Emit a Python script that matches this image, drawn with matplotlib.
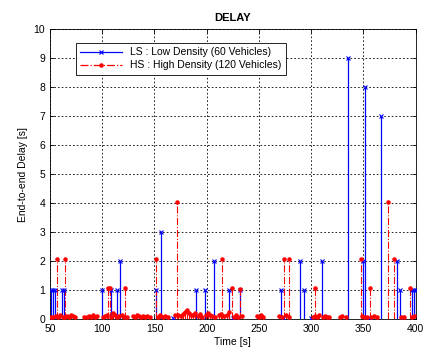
import matplotlib
matplotlib.use('Agg')
import matplotlib.pyplot as plt
from matplotlib.lines import Line2D

plt.rcParams['font.family'] = ['Liberation Sans', 'DejaVu Sans']

# LS : low density (60 vehicles) - delay peaks
ls_time = [51, 53, 55, 61, 63, 100, 108.5, 114, 117, 151.5, 156, 167.5, 190, 198, 207,
           221, 225, 232, 271, 273, 289, 293, 300, 310, 335, 350, 352, 356, 367, 382,
           385, 387, 397, 398.5, 400]
ls_delay = [1, 1, 1, 1, 1, 1, 1, 1, 2, 1, 3, 0.02, 1, 1, 2,
            1, 0.03, 1, 1, 0.03, 2, 1, 0.03, 2, 9, 2, 8, 0.04, 7, 2,
            1, 0.05, 1, 1, 1]

# HS : high density (120 vehicles) - delay peaks
hs_time = [56.5, 64.5, 105.5, 107, 122, 151, 171.5, 214.5, 224.5, 232, 274.5, 278.5,
           304, 348, 356, 373.5, 379.5, 394.5]
hs_delay = [2.05, 2.05, 1.05, 1.05, 1.05, 2.05, 4.05, 2.08, 1.05, 1.02, 2.05, 2.05,
            1.05, 2.05, 1.05, 4.05, 2.05, 1.05]

# HS : small delays close to zero
hs_low_time = [51, 53, 56, 58, 60, 62, 64, 66, 68, 70, 72, 74, 83, 85, 87, 89, 91, 93,
               95, 101, 103, 105, 108, 110, 112, 114, 116, 119, 121, 124, 129, 131, 133,
               135, 137, 139, 141, 143, 146, 153, 155, 158, 160, 163, 170, 173, 175, 177,
               179, 181, 183, 185, 187, 189, 192, 194, 196, 199, 201, 203, 205, 208, 212,
               214, 217, 219, 221, 226, 228, 230, 234, 248, 250, 252, 254, 269, 272, 276,
               279, 302, 304, 306, 308, 311, 313, 315, 317, 328, 330, 333, 349, 351, 354,
               357, 360, 363, 386, 389, 397, 399]
hs_low_delay = [0.08, 0.05, 0.1, 0.06, 0.12, 0.08, 0.05, 0.1, 0.07, 0.12, 0.09, 0.06,
                0.08, 0.05, 0.1, 0.07, 0.12, 0.06, 0.09, 0.05, 0.1, 0.14, 0.08, 0.2,
                0.12, 0.06, 0.1, 0.15, 0.08, 0.05, 0.1, 0.06, 0.12, 0.09, 0.07, 0.11,
                0.06, 0.1, 0.05, 0.08, 0.12, 0.06, 0.1, 0.07, 0.12, 0.15, 0.1, 0.18,
                0.25, 0.3, 0.22, 0.15, 0.12, 0.2, 0.1, 0.16, 0.08, 0.12, 0.2, 0.15,
                0.1, 0.07, 0.12, 0.18, 0.1, 0.14, 0.25, 0.08, 0.12, 0.06, 0.1, 0.1,
                0.06, 0.12, 0.08, 0.1, 0.06, 0.12, 0.08, 0.05, 0.1, 0.07, 0.12, 0.06,
                0.1, 0.08, 0.05, 0.08, 0.1, 0.06, 0.1, 0.06, 0.08, 0.05, 0.1, 0.06,
                0.05, 0.08, 0.06, 0.1]

fig = plt.figure(figsize=(4.24, 3.47), dpi=100)
ax = fig.add_axes([0.118, 0.081, 0.862, 0.835])

blue = (0, 0, 1)
red = (1, 0, 0)

ax.vlines(ls_time, 0, ls_delay, colors=blue, linewidth=0.9, zorder=3)
ax.plot(ls_time, ls_delay, 'x', color=blue, markersize=3.5, markeredgewidth=0.8, zorder=4)

ax.vlines(hs_time, 0, hs_delay, colors=red, linewidth=0.8, linestyles='dashdot', zorder=3)
ax.vlines(hs_low_time, 0, hs_low_delay, colors=red, linewidth=0.8, zorder=3)
ax.plot(hs_time + hs_low_time, hs_delay + hs_low_delay, '.', color=red, markersize=4.5, zorder=4)

ax.set_xlim(50, 400)
ax.set_ylim(0, 10)
ax.set_xticks(range(50, 401, 50))
ax.set_yticks(range(0, 11))
ax.tick_params(direction='in', top=True, right=True, labelsize=7.5, length=3, width=0.6)
ax.grid(True, color='black', linestyle=(0, (2, 2.5)), linewidth=0.6)
ax.set_axisbelow(True)
for s in ax.spines.values():
    s.set_linewidth(0.6)

ax.set_title('DELAY', fontsize=8, fontweight='bold', pad=6)
ax.set_xlabel('Time [s]', fontsize=7.5, labelpad=2)
ax.set_ylabel('End-to-end Delay [s]', fontsize=7.5, labelpad=4)

handles = [
    Line2D([], [], color=blue, linewidth=0.9, marker='x', markersize=3.5,
           markeredgewidth=0.8, markevery=[1]),
    Line2D([], [], color=red, linewidth=0.9, linestyle='dashdot', marker='.',
           markersize=4.5, markevery=[1]),
]
leg = ax.legend(handles, ['LS : Low Density (60 Vehicles)', 'HS : High Density (120 Vehicles)'],
                loc='upper left', bbox_to_anchor=(0.071, 0.952), fontsize=7.5,
                fancybox=False, edgecolor='black', framealpha=1, borderaxespad=0,
                handlelength=4, labelspacing=0.3)
leg.get_frame().set_linewidth(0.6)

fig.savefig('out.png', dpi=100)
